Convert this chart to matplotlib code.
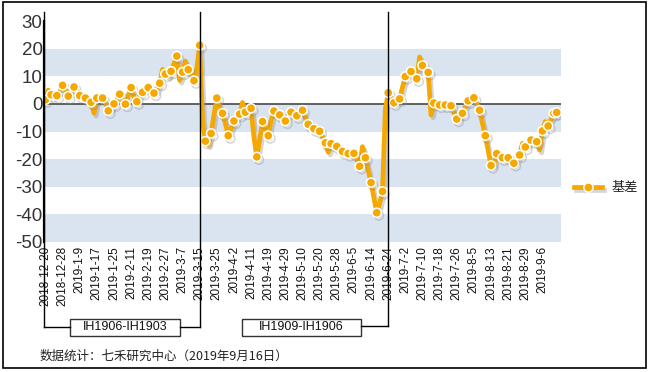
import matplotlib
matplotlib.use('Agg')
import matplotlib.pyplot as plt
from matplotlib.patches import Rectangle
from matplotlib.lines import Line2D
import matplotlib.patheffects as pe

plt.rcParams['font.family'] = ['Liberation Sans', 'Noto Sans CJK SC', 'DejaVu Sans']

# daily basis values (IH main-contract basis), 2018-12-20 .. 2019-9-16
basis = [
    1.5, 5.0, 3.3, 4.0, 3.0, 4.5, 6.7, 5.0, 2.8, 4.0,
    6.1, 5.0, 3.0, 2.5, 2.1, 1.0, 0.6, -3.4, 2.1, 2.5,
    2.1, 0.5, -2.5, -1.5, 0.0, 1.5, 3.5, 1.5, -0.1, 3.0,
    5.9, 2.5, 0.8, 3.0, 4.2, 5.5, 5.9, 5.0, 3.9, 5.0,
    7.5, 12.5, 10.8, 10.0, 11.8, 14.5, 17.3, 8.5, 11.5, 15.5,
    12.4, 10.5, 8.4, 13.0, 21.2, -6.0, -13.5, -14.8, -10.7, -4.0,
    2.1, -1.0, -3.4, -7.0, -11.5, -9.0, -6.2, -4.5, -3.7, 0.5,
    -3.0, -2.0, -1.6, -12.0, -19.2, -13.0, -6.4, -9.0, -11.5, -6.0,
    -2.6, -3.5, -4.0, -5.0, -6.2, -4.5, -3.0, -3.5, -4.3, -3.0,
    -2.3, -5.0, -7.4, -8.5, -9.0, -9.5, -9.9, -12.0, -14.1, -17.5,
    -14.4, -15.0, -15.4, -16.0, -17.2, -17.5, -18.0, -18.0, -17.9, -20.0,
    -22.6, -15.5, -19.5, -24.0, -28.5, -34.0, -39.4, -36.0, -31.7, -2.0,
    4.0, 2.0, 0.4, 1.0, 1.8, 6.0, 9.9, 10.5, 11.7, 10.5,
    9.1, 17.0, 13.9, 12.5, 11.4, -4.0, 0.3, 0.0, -0.4, -0.4,
    -0.4, -0.5, -0.7, -3.0, -5.5, -4.5, -3.4, -1.0, 1.1, 1.5,
    2.2, 0.0, -2.3, -7.0, -11.5, -17.0, -22.3, -22.0, -18.0, -19.0,
    -19.5, -19.5, -19.5, -20.5, -21.5, -20.0, -18.5, -14.3, -15.6, -14.5,
    -13.1, -13.5, -13.7, -16.7, -9.8, -6.4, -8.0, -5.5, -3.4, -3.1,
]
tick_labels = [
    '2018-12-20', '2018-12-28', '2019-1-9', '2019-1-17', '2019-1-25',
    '2019-2-11', '2019-2-19', '2019-2-27', '2019-3-7', '2019-3-15',
    '2019-3-25', '2019-4-2', '2019-4-11', '2019-4-19', '2019-4-29',
    '2019-5-10', '2019-5-20', '2019-5-28', '2019-6-5', '2019-6-14',
    '2019-6-24', '2019-7-2', '2019-7-10', '2019-7-18', '2019-7-26',
    '2019-8-5', '2019-8-13', '2019-8-21', '2019-8-29', '2019-9-6',
]
tick_step = 6
series_name = '基差'
contracts = ['IH1906-IH1903', 'IH1909-IH1906']
roll_index = [54, 120]
y_ticks = list(range(-50, 31, 10))
blue_bands = [(10, 20), (-10, 0), (-30, -20), (-50, -40)]
footer = '数据统计：七禾研究中心（2019年9月16日）'

ORANGE = '#F5A800'
BAND = '#DAE4F0'

W, H = 649, 372
fig = plt.figure(figsize=(W / 100, H / 100), dpi=100)


def fx(px):
    return px / W


def fy(py):
    return 1 - py / H


ax = fig.add_axes([fx(44), fy(242), fx(561) - fx(44), fy(21) - fy(242)])
n = len(basis)
xs = list(range(n))
ax.set_xlim(-0.5, n + 0.5)
ax.set_ylim(-50, 30)

for lo, hi in blue_bands:
    ax.axhspan(lo, hi, color=BAND, lw=0, zorder=0)
ax.axhline(0, color='#555555', lw=1.3, zorder=1)

marks = list(range(0, n, 2)) + [n - 1]
ax.plot(xs, basis, color=ORANGE, lw=3.4, marker='o', markevery=marks,
        markersize=6.6, markerfacecolor=ORANGE, markeredgecolor='white',
        markeredgewidth=1.1, zorder=3,
        path_effects=[pe.SimpleLineShadow(offset=(1.5, -2.0), shadow_color='#888888', alpha=0.35),
                      pe.Normal()])

ax.set_yticks(y_ticks)
ax.set_yticklabels([str(v) for v in y_ticks], fontsize=13.5, color='#333333')
ax.set_xticks(list(range(0, n, tick_step))[:len(tick_labels)])
ax.set_xticklabels(tick_labels, rotation=90, fontsize=8.5, color='#111111')
ax.tick_params(axis='y', length=0, pad=1)
ax.tick_params(axis='x', length=0, pad=3)
for s in ['top', 'right', 'bottom']:
    ax.spines[s].set_visible(False)
ax.spines['left'].set_linewidth(1.6)
ax.spines['left'].set_color('black')

# figure frame
fig.add_artist(Rectangle((fx(3), fy(368)), fx(646) - fx(3), fy(2) - fy(368),
                         transform=fig.transFigure, fill=False, ec='black', lw=1.2))


def data_px(i):
    return ax.transData.transform((i, 0))[0]


top_py, brk_py = 12, 327
left_px = data_px(-0.5)
r1 = data_px(roll_index[0])
r2 = data_px(roll_index[1])

line_kw = dict(transform=fig.transFigure, color='black', lw=1.0)
# bracket 1
fig.add_artist(Line2D([fx(left_px)] * 2, [fy(top_py), fy(brk_py)], **line_kw))
fig.add_artist(Line2D([fx(left_px), fx(70)], [fy(brk_py)] * 2, **line_kw))
fig.add_artist(Line2D([fx(180), fx(r1)], [fy(brk_py)] * 2, **line_kw))
fig.add_artist(Line2D([fx(r1)] * 2, [fy(top_py), fy(brk_py)], **line_kw))
# bracket 2
fig.add_artist(Line2D([fx(361), fx(r2)], [fy(326)] * 2, **line_kw))
fig.add_artist(Line2D([fx(r2)] * 2, [fy(top_py), fy(326)], **line_kw))

for (x0, x1), label in zip([(70, 180), (242, 361)], contracts):
    fig.add_artist(Rectangle((fx(x0), fy(336)), fx(x1) - fx(x0), fy(319) - fy(336),
                             transform=fig.transFigure, fill=True, fc='white', ec='#333333', lw=1.0))
    fig.text(fx((x0 + x1) / 2), fy(327.5), label, ha='center', va='center',
             fontsize=9, color='#111111')

# legend
fig.add_artist(Line2D([fx(574), fx(602)], [fy(187)] * 2, transform=fig.transFigure,
                      color=ORANGE, lw=3.4, path_effects=[
                          pe.SimpleLineShadow(offset=(1.5, -2.0), shadow_color='#888888', alpha=0.35),
                          pe.Normal()]))
fig.add_artist(Line2D([fx(588)], [fy(187)], transform=fig.transFigure, marker='o',
                      markersize=6.6, markerfacecolor=ORANGE, markeredgecolor='white',
                      markeredgewidth=1.1, linestyle='none'))
fig.text(fx(611), fy(187), series_name, ha='left', va='center', fontsize=9.5,
         color='#222222', family=['Noto Sans CJK SC', 'DejaVu Sans'])

fig.text(fx(40), fy(356), footer, ha='left', va='center', fontsize=9,
         color='#222222', family=['Noto Sans CJK SC', 'DejaVu Sans'])

fig.savefig('out.png', dpi=100)
